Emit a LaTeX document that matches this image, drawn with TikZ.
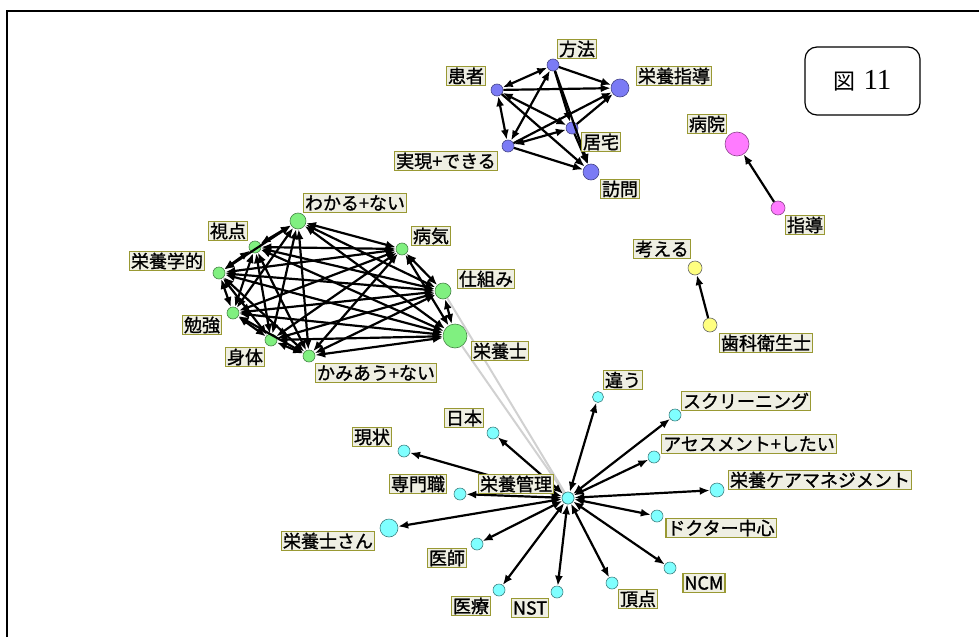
\documentclass[tikz,border=0pt]{standalone}
\usepackage{fontspec}
\newfontfamily\jp[FakeBold=1.2]{Noto Sans CJK JP}
\newfontfamily\jpfig{Noto Sans CJK JP}
\newfontfamily\serifd{Liberation Serif}
\usetikzlibrary{arrows.meta}
\definecolor{bluec}{HTML}{7B7BF5}
\definecolor{greenc}{HTML}{80F080}
\definecolor{pinkc}{HTML}{FF7BFF}
\definecolor{yellowc}{HTML}{FFFF80}
\definecolor{cyanc}{HTML}{7FFFFF}
\definecolor{labfill}{HTML}{EFEFE3}
\definecolor{labdraw}{HTML}{999933}
\begin{document}
\begin{tikzpicture}[x=1pt,y=-1pt,
  >={Latex[length=10pt,width=8pt]},
  dotb/.style={circle,inner sep=0pt,line width=0.6pt,fill=bluec,draw=bluec!55!black,minimum size=#1},
  dotg/.style={circle,inner sep=0pt,line width=0.6pt,fill=greenc,draw=greenc!55!black,minimum size=#1},
  dotp/.style={circle,inner sep=0pt,line width=0.6pt,fill=pinkc,draw=pinkc!55!black,minimum size=#1},
  doty/.style={circle,inner sep=0pt,line width=0.6pt,fill=yellowc,draw=black!60,minimum size=#1},
  dotc/.style={circle,inner sep=0pt,line width=0.6pt,fill=cyanc,draw=cyanc!50!black,minimum size=#1},
  lab/.style={draw=labdraw,fill=labfill,line width=1.3pt,inner xsep=1.5pt,inner ysep=0.5pt,minimum height=19pt,
    font=\jp\fontsize{18}{18}\selectfont},
  ed/.style={line width=2.2pt,black},
  grayed/.style={line width=2pt,black!18}]
\useasboundingbox (0,0) rectangle (979,637);
\draw[line width=2pt] (7,637) -- (7,11) -- (979,11);
% figure label
\node[draw,line width=1.2pt,rounded corners=12pt,minimum width=115pt,minimum height=68pt] (fig) at (862.5,81)
  {{\jpfig\fontsize{22}{22}\selectfont 図}\hspace{8pt}{\serifd\fontsize{29}{29}\selectfont 11}};
% ---------- nodes: blue
\node[dotb=12pt] (b1) at (553,65) {};
\node[dotb=12pt] (b2) at (497,90) {};
\node[dotb=18pt] (b3) at (620,88) {};
\node[dotb=12pt] (b4) at (572,128) {};
\node[dotb=12pt] (b5) at (508,146) {};
\node[dotb=16pt] (b6) at (591,172) {};
% green
\node[dotg=16pt] (g1) at (298,221) {};
\node[dotg=12pt] (g2) at (255,247) {};
\node[dotg=12pt] (g3) at (219,273) {};
\node[dotg=12pt] (g4) at (233,313) {};
\node[dotg=12pt] (g5) at (271,340) {};
\node[dotg=12pt] (g6) at (309,356) {};
\node[dotg=12pt] (g7) at (402,249) {};
\node[dotg=16pt] (g8) at (443,291) {};
\node[dotg=24pt] (g9) at (455,336) {};
% pink / yellow
\node[dotp=24pt] (p1) at (737,144) {};
\node[dotp=14pt] (p2) at (778,208) {};
\node[doty=14pt] (y1) at (695,268) {};
\node[doty=14pt] (y2) at (710,325) {};
% cyan
\node[dotc=12pt] (c0) at (568,498) {};
\node[dotc=12pt] (c1) at (493,433) {};
\node[dotc=12pt] (c2) at (404,451) {};
\node[dotc=12pt] (c3) at (460,494) {};
\node[dotc=18pt] (c4) at (389,528) {};
\node[dotc=12pt] (c5) at (477,544) {};
\node[dotc=12pt] (c6) at (499,590) {};
\node[dotc=12pt] (c7) at (557,592) {};
\node[dotc=11pt] (c8) at (598,397) {};
\node[dotc=12pt] (c9) at (675,415) {};
\node[dotc=12pt] (c10) at (654,457) {};
\node[dotc=14pt] (c11) at (717,490) {};
\node[dotc=12pt] (c12) at (657,516) {};
\node[dotc=12pt] (c13) at (670,568) {};
\node[dotc=12pt] (c14) at (612,583) {};
% ---------- edges
\draw[grayed] (g8) -- (c0);
\draw[grayed] (g9) -- (c0);
% blue
\draw[ed,<->] (b2) -- (b1);
\draw[ed,->] (b1) -- (b3);
\draw[ed,->] (b2) -- (b3);
\draw[ed,<->] (b2) -- (b5);
\draw[ed,<->] (b5) -- (b1);
\draw[ed,->] (b1) -- (b4);
\draw[ed,->] (b1) -- (b6);
\draw[ed,<->] (b2) -- (b4);
\draw[ed,->] (b2) -- (b6);
\draw[ed,<->] (b5) -- (b4);
\draw[ed,->] (b5) -- (b3);
\draw[ed,->] (b5) -- (b6);
\draw[ed,->] (b4) -- (b3);
\draw[ed,->] (b4) -- (b6);
% green (complete)
\foreach \i/\j in {1/2,1/3,1/4,1/5,1/6,1/7,1/8,1/9,2/3,2/4,2/5,2/6,2/7,2/8,2/9,3/4,3/5,3/6,3/7,3/8,3/9,4/5,4/6,4/7,4/8,4/9,5/6,5/7,5/8,5/9,6/7,6/8,6/9,7/8,7/9,8/9}
  \draw[ed,<->] (g\i) -- (g\j);
% pink / yellow
\draw[ed,->] (p2) -- (p1);
\draw[ed,->] (y2) -- (y1);
% cyan
\foreach \k in {1,...,14}
  \draw[ed,<->] (c0) -- (c\k);
\node[dotc=12pt] at (c0) {};
% ---------- labels
\node[lab] (lb1) at (577,49) {方法};
\node[lab] (lb2) at (466,76) {患者};
\node[lab] (lb3) at (674,76) {栄養指導};
\node[lab] (lb4) at (601,142) {居宅};
\node[lab] (lb5) at (446,161) {実現+できる};
\node[lab] (lb6) at (620,189) {訪問};
\node[lab] (lg1) at (355,203) {わかる+ない};
\node[lab] (lg2) at (228,231) {視点};
\node[lab] (lg3) at (167,261) {栄養学的};
\node[lab] (lg4) at (202,325) {勉強};
\node[lab] (lg5) at (245,357) {身体};
\node[lab] (lg6) at (376,373) {かみあう+ない};
\node[lab] (lg7) at (431,236) {病気};
\node[lab] (lg8) at (486,279) {仕組み};
\node[lab] (lg9) at (500,351) {栄養士};
\node[lab] (lp1) at (707,124) {病院};
\node[lab] (lp2) at (805,225) {指導};
\node[lab] (ly1) at (662,249) {考える};
\node[lab] (ly2) at (766,343) {歯科衛生士};
\node[lab] (lc0) at (516,484) {栄養管理};
\node[lab] (lc1) at (464,418) {日本};
\node[lab] (lc2) at (372,437) {現状};
\node[lab] (lc3) at (418,484) {専門職};
\node[lab] (lc4) at (328,541) {栄養士さん};
\node[lab] (lc5) at (447,558) {医師};
\node[lab] (lc6) at (471,606) {医療};
\node[lab] (lc7) at (530,608) {NST};
\node[lab] (lc8) at (623,380) {違う};
\node[lab] (lc9) at (746,401) {スクリーニング};
\node[lab] (lc10) at (749,444) {アセスメント+したい};
\node[lab] (lc11) at (820,480) {栄養ケアマネジメント};
\node[lab] (lc12) at (721,528) {ドクター中心};
\node[lab] (lc13) at (704,583) {NCM};
\node[lab] (lc14) at (638,599) {頂点};
\end{tikzpicture}
\end{document}
